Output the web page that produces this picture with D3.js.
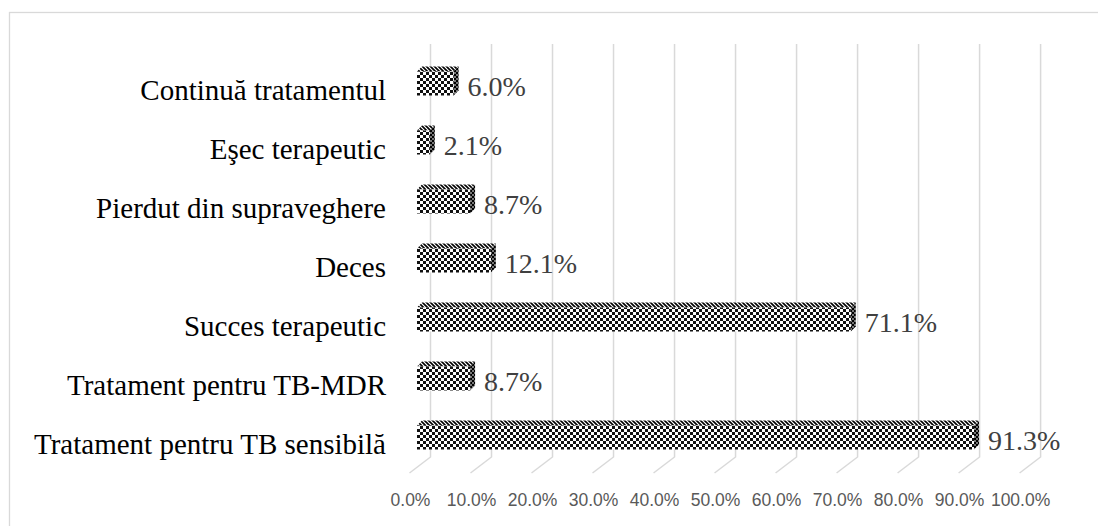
<!DOCTYPE html>
<html>
<head>
<meta charset="utf-8">
<script src="https://cdn.jsdelivr.net/npm/d3@7"></script>
<style>
  body { margin: 0; background: #fff; }
  svg { display: block; }
</style>
</head>
<body>
<svg id="visualization" width="1098" height="526"></svg>
<script>
const categories = [
    "Continuă tratamentul",
    "Eşec terapeutic",
    "Pierdut din supraveghere",
    "Deces",
    "Succes terapeutic",
    "Tratament pentru TB-MDR",
    "Tratament pentru TB sensibilă"
];
const values = [0.060, 0.021, 0.087, 0.121, 0.711, 0.087, 0.913];
const tickValues = [0, 0.1, 0.2, 0.3, 0.4, 0.5, 0.6, 0.7, 0.8, 0.9, 1.0];

const svg = d3.select("#visualization");

// 3d offsets (floor depth and bar depth)
const floorDx = -21, floorDy = 16;
const barShift = -13.5;
const depthX = 5, depthY = -5;
const barH = 24;

const xScale = d3.scaleLinear().domain([0, 1]).range([430.5, 1040.6]);
const yScale = d3.scalePoint().domain(categories).range([83.5, 437.5]);
const fmt = d3.format(".1%");

// patterns
const defs = svg.append("defs");
const chk = defs.append("pattern").attr("id", "chk")
    .attr("patternUnits", "userSpaceOnUse").attr("width", 6).attr("height", 6);
chk.append("rect").attr("width", 6).attr("height", 6).attr("fill", "#fff");
chk.append("rect").attr("width", 3).attr("height", 3).attr("fill", "#111");
chk.append("rect").attr("x", 3).attr("y", 3).attr("width", 3).attr("height", 3).attr("fill", "#111");

const chkDark = defs.append("pattern").attr("id", "chkDark")
    .attr("patternUnits", "userSpaceOnUse").attr("width", 4).attr("height", 4);
chkDark.append("rect").attr("width", 4).attr("height", 4).attr("fill", "#777");
chkDark.append("rect").attr("width", 2).attr("height", 2).attr("fill", "#000");
chkDark.append("rect").attr("x", 2).attr("y", 2).attr("width", 2).attr("height", 2).attr("fill", "#000");

const diag = defs.append("pattern").attr("id", "diag")
    .attr("patternUnits", "userSpaceOnUse").attr("width", 4).attr("height", 4);
diag.append("rect").attr("width", 4).attr("height", 4).attr("fill", "#fff");
diag.append("path").attr("d", "M0,0 L4,4 M-1,3 L1,5 M3,-1 L5,1")
    .attr("stroke", "#000").attr("stroke-width", 1.6);

// chart border
svg.append("rect")
    .attr("x", 9.5).attr("y", 12.5)
    .attr("width", 1200).attr("height", 600)
    .attr("fill", "none").attr("stroke", "#d9d9d9").attr("stroke-width", 1.3);

// back wall grid + floor lines
const grid = svg.append("g");
grid.selectAll(".grid")
    .data(tickValues)
    .join("path")
    .attr("class", "grid")
    .attr("d", d => `M${xScale(d)},44 L${xScale(d)},457 L${xScale(d) + floorDx},${457 + floorDy}`)
    .attr("fill", "none")
    .attr("stroke", "#d9d9d9")
    .attr("stroke-width", 1.5);

// tick labels
svg.selectAll(".tick-label")
    .data(tickValues)
    .join("text")
    .attr("class", "tick-label")
    .attr("x", d => xScale(d) + floorDx + 1)
    .attr("y", 506)
    .attr("text-anchor", "middle")
    .attr("font-family", "Liberation Sans, Arial, sans-serif")
    .attr("font-size", 17.5)
    .attr("fill", "#595959")
    .text(d => fmt(d));

// bars
const rows = categories.map((c, i) => ({ cat: c, val: values[i] }));
const bars = svg.selectAll(".bar").data(rows).join("g").attr("class", "bar");

const x0 = xScale(0) + barShift;
bars.append("path") // top face
    .attr("d", d => {
        const x1 = xScale(d.val) + barShift, y = yScale(d.cat) - barH / 2;
        return `M${x0},${y} L${x0 + depthX},${y + depthY} L${x1 + depthX},${y + depthY} L${x1},${y} Z`;
    })
    .attr("fill", "url(#diag)");
bars.append("path") // side face
    .attr("d", d => {
        const x1 = xScale(d.val) + barShift, y = yScale(d.cat) - barH / 2;
        return `M${x1},${y} L${x1 + depthX},${y + depthY} L${x1 + depthX},${y + depthY + barH} L${x1},${y + barH} Z`;
    })
    .attr("fill", "url(#chkDark)");
bars.append("rect") // front face
    .attr("x", x0)
    .attr("y", d => yScale(d.cat) - barH / 2)
    .attr("width", d => xScale(d.val) + barShift - x0)
    .attr("height", barH)
    .attr("fill", "url(#chk)");

// value labels
svg.selectAll(".val")
    .data(rows)
    .join("text")
    .attr("class", "val")
    .attr("x", d => xScale(d.val) + barShift + 14)
    .attr("y", d => yScale(d.cat) + 12.5)
    .attr("font-family", "Liberation Serif, Times New Roman, serif")
    .attr("font-size", 28)
    .attr("fill", "#404040")
    .text(d => fmt(d.val));

// category labels
svg.selectAll(".cat")
    .data(categories)
    .join("text")
    .attr("class", "cat")
    .attr("x", 386)
    .attr("y", d => yScale(d) + 16)
    .attr("text-anchor", "end")
    .attr("font-family", "Liberation Serif, Times New Roman, serif")
    .attr("font-size", 29)
    .attr("fill", "#000")
    .text(d => d);
</script>
</body>
</html>
